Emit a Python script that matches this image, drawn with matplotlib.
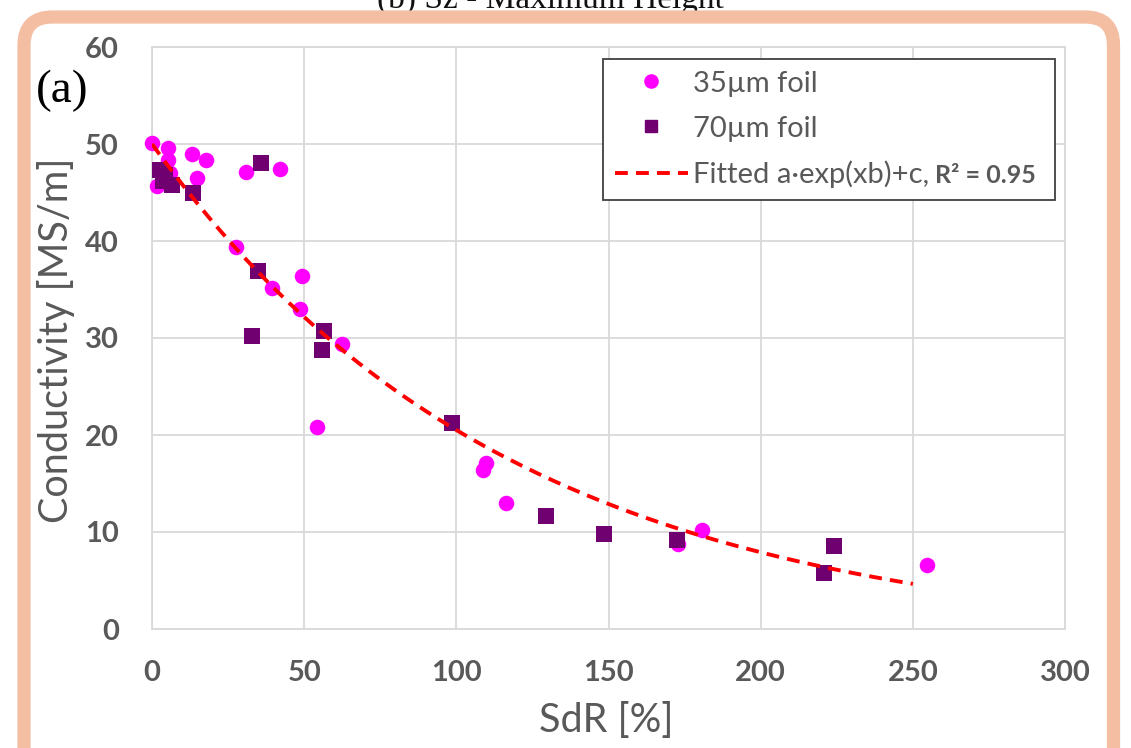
import matplotlib
matplotlib.use("Agg")
import matplotlib.pyplot as plt
import numpy as np
from matplotlib.patches import FancyBboxPatch
from matplotlib.lines import Line2D

# ---------------- data ----------------
sdr_35 = [0.0, 5.3, 5.2, 13.0, 17.8, 31.0, 42.0, 14.7, 1.5, 6.0, 27.6, 39.3,
          49.2, 48.7, 62.5, 54.3, 109.9, 108.8, 116.4, 173.0, 180.6, 254.6]
cond_35 = [50.1, 49.6, 48.4, 49.0, 48.3, 47.1, 47.4, 46.5, 45.7, 47.0, 39.4, 35.2,
           36.4, 33.0, 29.4, 20.8, 17.1, 16.4, 13.0, 8.8, 10.2, 6.6]

sdr_70 = [2.5, 3.5, 4.2, 6.5, 13.4, 35.7, 34.8, 33.0, 56.6, 56.0, 98.6,
          129.6, 148.4, 172.4, 220.7, 224.0]
cond_70 = [47.3, 46.2, 46.8, 45.8, 45.0, 48.0, 36.9, 30.2, 30.7, 28.8, 21.2,
           11.7, 9.8, 9.2, 5.8, 8.6]

# fitted model a*exp(x*b)+c
fit_a, fit_b, fit_c = 51.5, -0.0085, -1.5
fit_xmin, fit_xmax = 0.0, 250.0

x_ticks = [0, 50, 100, 150, 200, 250, 300]
y_ticks = [0, 10, 20, 30, 40, 50, 60]

# ---------------- figure ----------------
W, H = 1131, 748
fig = plt.figure(figsize=(W / 100, H / 100), dpi=100)
fig.patch.set_facecolor("white")

# cropped title at top
fig.text(550 / W, 1 - 8 / H, "(b) Sz - Maximum Height", ha="center", va="baseline",
         fontsize=24, family="Liberation Serif", color="#111111", zorder=1)

# rounded salmon frame
frame = FancyBboxPatch((24 / W, -0.2), (1113.5 - 24) / W, 1 - 17 / H + 0.2,
                       boxstyle="round,pad=0,rounding_size=0.025",
                       transform=fig.transFigure, facecolor="none",
                       edgecolor="#F3BEA2", linewidth=9.5, zorder=6,
                       mutation_aspect=W / H)
fig.patches.append(frame)

ax = fig.add_axes([152 / W, 1 - 629 / H, (1065 - 152) / W, (629 - 47) / H])
ax.set_xlim(0, 300)
ax.set_ylim(0, 60)
ax.set_xticks(x_ticks)
ax.set_yticks(y_ticks)
ax.grid(True, color="#d9d9d9", linewidth=1.3)
ax.set_axisbelow(True)
for s in ax.spines.values():
    s.set_color("#d9d9d9")
    s.set_linewidth(1.3)
ax.tick_params(length=0, labelsize=21, labelcolor="#595959")
ax.tick_params(axis="y", pad=24)
ax.tick_params(axis="x", pad=22)
for lab in ax.get_xticklabels() + ax.get_yticklabels():
    lab.set_fontfamily("Lato")
    lab.set_fontweight("bold")

ax.scatter(sdr_35, cond_35, s=125, marker="o", color="#FF00FF", linewidths=0,
           zorder=3, clip_on=False)
ax.scatter(sdr_70, cond_70, s=120, marker="s", color="#700070", linewidths=0,
           zorder=4, clip_on=False)
xf = np.linspace(fit_xmin, fit_xmax, 200)
yf = fit_a * np.exp(xf * fit_b) + fit_c
ax.plot(xf, yf, color="#FF0000", linewidth=2.8, dashes=(3.3, 2.1), zorder=5)

ax.set_xlabel("SdR [%]", fontsize=28.5, family="Lato", color="#595959")
ax.xaxis.set_label_coords(0.498, (629 - 702) / 582)
ax.set_ylabel("Conductivity [MS/m]", fontsize=28.5, family="Lato", color="#595959")
ax.yaxis.set_label_coords((75 - 152) / 913, (629 - 340) / 582)

fig.text(36 / W, 1 - 102 / H, "(a)", fontsize=34, family="Liberation Serif",
         color="black", ha="left", va="baseline")

# widen first legend label with trailing spaces so the box reaches its width
r = fig.canvas.get_renderer()
target_w = 343
lab1 = "35µm foil"
probe = fig.text(0, 0, lab1, family="Lato", size=21)
while probe.get_window_extent(r).width < target_w:
    lab1 += " "
    probe.set_text(lab1)
probe.remove()

handles = [
    Line2D([], [], marker="o", linestyle="none", color="#FF00FF", markersize=9.5),
    Line2D([], [], marker="s", linestyle="none", color="#700070", markersize=9),
    Line2D([], [], color="#FF0000", linewidth=2.8, dashes=(3.3, 2.1)),
]
labels = [lab1, "70µm foil", "Fitted a·exp(xb)+c,"]
leg = ax.legend(handles, labels, loc="upper left",
                bbox_to_anchor=((603 - 152) / 913, (629 - 59) / 582),
                borderaxespad=0, frameon=True, fancybox=False,
                edgecolor="#404040", framealpha=1, handlelength=2.5,
                handletextpad=0.2, labelspacing=0.65, borderpad=0.4,
                prop={"family": "Lato", "size": 21})
leg.get_frame().set_linewidth(1.3)
for t in leg.get_texts():
    t.set_color("#595959")

fig.canvas.draw()
r = fig.canvas.get_renderer()
ext = leg.get_texts()[2].get_window_extent(r)
fig.text((ext.x1 + 5) / W, (ext.y0 + ext.y1) / 2 / H - 0.002,
         "R² = 0.95", family="Lato", size=18, weight="bold", color="#595959",
         ha="left", va="center")

fig.savefig("out.png", dpi=100)
